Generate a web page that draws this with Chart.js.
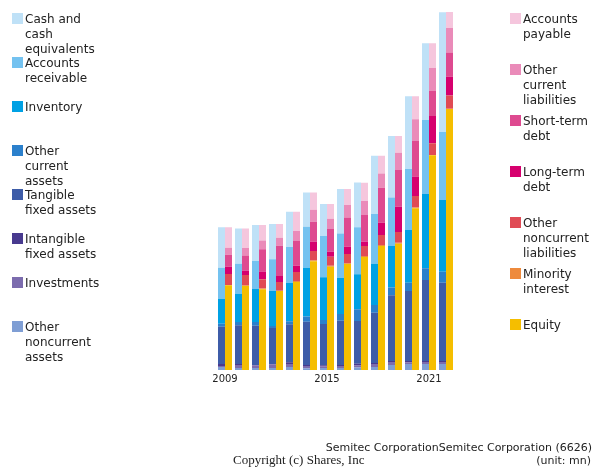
<!DOCTYPE html>
<html>
<head>
<meta charset="utf-8">
<title>Semitec Corporation balance sheet</title>
<script src="https://cdn.jsdelivr.net/npm/chart.js"></script>
<style>
  body { margin: 0; background: #fff; font-family: "DejaVu Sans", sans-serif; color: #222; }
  #wrap { position: relative; width: 600px; height: 470px; overflow: hidden; }
  #bs { position: absolute; left: 0; top: 0; }
  .item { position: absolute; font-size: 12px; line-height: 15px; white-space: pre-line; }
  .box { position: absolute; width: 11px; height: 11px; }
  .note { position: absolute; font-size: 11px; line-height: 13px; white-space: nowrap; }
</style>
</head>
<body>
<div id="wrap">
  <canvas id="bs" width="600" height="470"></canvas>
  <div class="note" style="right:8px; top:441px;">Semitec CorporationSemitec Corporation (6626)</div>
  <div class="note" style="right:9px; top:454px;">(unit: mn)</div>
  <div class="note" style="left:233px; top:452px; font-family:'Liberation Serif', serif; font-size:13px; line-height:15px;">Copyright (c) Shares, Inc</div>
</div>
<script>
  const years = ['2009', '2010', '2011', '2012', '2013', '2014', '2015', '2016', '2017', '2018', '2019', '2020', '2021', '2022'];

  // assets
  const cash        = [40.4, 35.3, 36, 35.3, 35.3, 34.3, 32, 44.3, 44.7, 58.3, 61.7, 72.7, 76.7, 119.7];
  const receivables = [31, 30, 28, 31.7, 36, 41, 41.3, 44.3, 47, 49.7, 48.3, 61, 74, 68];
  const inventory   = [25, 28.3, 33, 35, 38.3, 48.7, 42.7, 36.3, 35, 41.3, 41.7, 52.7, 74.3, 71.7];
  const otherCurA   = [3, 3.3, 3.7, 2, 3, 5.3, 4, 6.7, 11.7, 7.7, 7.7, 8.3, 11.7, 11];
  const tangible    = [37.3, 38.7, 39.3, 36, 38, 43.3, 41.3, 44.3, 42.7, 50.3, 65.7, 70, 81, 78.3];
  const intangible  = [2, 1, 0.3, 0.3, 1.7, 1, 1.3, 1, 1.7, 1, 1, 1.3, 1, 1];
  const investments = [1, 3, 2.7, 3.7, 3, 2.3, 1.4, 2, 2, 3, 3, 1.7, 2, 2];
  const otherNonA   = [3, 2, 2, 2, 3, 1.7, 2, 2, 2.6, 3, 5, 6, 6, 6];

  // liabilities and equity
  const payables    = [20.4, 19.7, 15.7, 13.7, 19.3, 17.3, 14.7, 16, 18.3, 17.7, 16.7, 23, 24.7, 16];
  const otherCurL   = [7, 7.3, 8.7, 8, 10, 12, 10.3, 12.3, 14, 14.3, 17.3, 21.7, 23, 24.3];
  const shortDebt   = [12, 15.3, 22.3, 30.3, 24.7, 20, 22.7, 29.3, 26.7, 35, 36.7, 35.7, 25, 24.3];
  const longDebt    = [7.3, 4.3, 7.7, 6, 6.3, 9.3, 5, 7.3, 4.3, 12.3, 25.3, 19.3, 27.3, 18.7];
  const otherNonL   = [11, 10.3, 9.3, 8.7, 9, 9.3, 9, 9.3, 10, 10, 10.7, 11.7, 11.7, 13.3];
  const minority    = [0.3, 0.7, 0.7, 0.3, 1, 1, 1, 0.7, 1, 1, 1, 0.7, 0.3, 0.3];
  const equity      = [84.7, 84, 80.7, 79, 88, 108.7, 103.3, 106, 113, 124, 126.3, 161.7, 214.7, 261];

  // legend order (top to bottom); stacks are drawn in reverse
  const assetSeries = [
    ['Cash and\ncash\nequivalents', cash, '#bfe1f7'],
    ['Accounts\nreceivable', receivables, '#74c2f0'],
    ['Inventory', inventory, '#00a1e4'],
    ['Other\ncurrent\nassets', otherCurA, '#2b80cc'],
    ['Tangible\nfixed assets', tangible, '#3d5ca8'],
    ['Intangible\nfixed assets', intangible, '#483a8f'],
    ['Investments', investments, '#7c6cae'],
    ['Other\nnoncurrent\nassets', otherNonA, '#7f9ed4']
  ];
  const liabSeries = [
    ['Accounts\npayable', payables, '#f5c6dd'],
    ['Other\ncurrent\nliabilities', otherCurL, '#ea8bb9'],
    ['Short-term\ndebt', shortDebt, '#de4a90'],
    ['Long-term\ndebt', longDebt, '#d6006e'],
    ['Other\nnoncurrent\nliabilities', otherNonL, '#e04b55'],
    ['Minority\ninterest', minority, '#ee8a3c'],
    ['Equity', equity, '#f5be00']
  ];

  const datasets = [];
  assetSeries.slice().reverse().forEach(s => datasets.push({
    label: s[0], data: s[1], backgroundColor: s[2], stack: 'assets'
  }));
  liabSeries.slice().reverse().forEach(s => datasets.push({
    label: s[0], data: s[1], backgroundColor: s[2], stack: 'liab'
  }));

  // legends as html
  const wrap = document.getElementById('wrap');
  function addLegend(series, boxLeft, firstTop, step) {
    series.forEach((s, i) => {
      const top = firstTop + i * step;
      const box = document.createElement('div');
      box.className = 'box';
      box.style.left = boxLeft + 'px';
      box.style.top = top + 'px';
      box.style.background = s[2];
      wrap.appendChild(box);
      const t = document.createElement('div');
      t.className = 'item';
      t.style.left = (boxLeft + 13) + 'px';
      t.style.top = (top - 1) + 'px';
      t.textContent = s[0];
      wrap.appendChild(t);
    });
  }
  addLegend(assetSeries, 12, 13, 44);
  addLegend(liabSeries, 510, 13, 51);

  new Chart(document.getElementById('bs'), {
    type: 'bar',
    data: { labels: years, datasets: datasets },
    options: {
      responsive: false,
      animation: false,
      layout: { padding: { left: 216.5, right: 145.5, top: 10, bottom: 82 } },
      plugins: { legend: { display: false }, tooltip: { enabled: false } },
      datasets: { bar: { categoryPercentage: 14 / 17, barPercentage: 1, borderWidth: 0 } },
      scales: {
        x: {
          stacked: true,
          grid: { display: false, drawTicks: false },
          border: { display: false },
          ticks: {
            autoSkip: false,
            maxRotation: 0,
            padding: 3,
            color: '#222',
            font: { family: 'DejaVu Sans', size: 10 },
            callback: function (v, i) { return i % 6 === 0 ? years[i] : ''; }
          }
        },
        y: { stacked: true, display: false, min: 0, max: 360 }
      }
    }
  });
</script>
</body>
</html>
